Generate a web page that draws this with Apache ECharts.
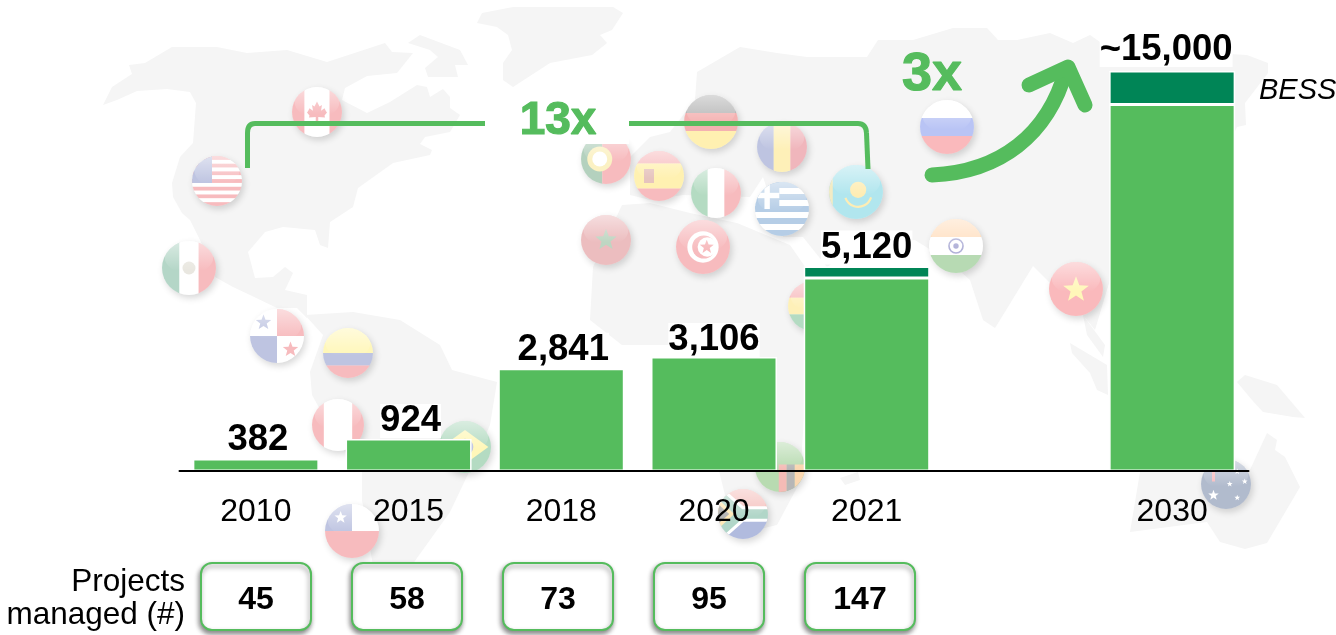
<!DOCTYPE html>
<html><head><meta charset="utf-8">
<style>html,body{margin:0;padding:0;background:#fff}#c{width:1336px;height:635px}</style>
<script src="https://cdn.jsdelivr.net/npm/echarts@6/dist/echarts.min.js"></script>
</head><body><div id="c"></div>
<script>
// ---------- data ----------
const categories = ['2010','2015','2018','2020','2021','','2030'];
// bar lengths as drawn in the picture (the source's bars are not strictly to scale with their labels)
const baseValues = [451,1203,3835,4275,7237,null,13742];
const bessValues = [null,null,null,null,432,null,1258];
const totalLabels = ['382','924','2,841','3,106','5,120','','~15,000'];
const projectsManaged = [45,58,73,95,147,null,null];

// ---------- style / layout ----------
const GREEN='#55BC5D', DARK='#008556', MAP='#f5f5f5', FONT='"Liberation Sans",Arial,sans-serif';
const labelOffsets=[[2,0],[2,1],[2,0],[0,2],[0,0],[0,0],[-6,-2]];

const landShapes=[
 // North + Central America
 [[103,105],[112,87],[132,74],[129,65],[145,63],[172,47],[217,47],[247,53],[287,50],[327,62],[385,43],[392,52],[413,53],[397,73],[367,76],[345,88],[342,100],[367,113],[390,102],[417,85],[427,87],[430,97],[443,89],[450,97],[450,108],[460,115],[450,132],[425,137],[420,144],[432,150],[430,155],[393,163],[358,188],[353,207],[330,222],[328,248],[320,245],[315,230],[283,227],[265,232],[248,252],[255,278],[273,277],[285,267],[293,273],[285,290],[307,295],[307,318],[297,308],[277,308],[250,295],[233,287],[215,277],[200,240],[190,220],[182,213],[173,197],[172,183],[180,157],[193,143],[196,103],[190,92],[167,89],[137,91],[117,100]],
 // Arctic islands
 [[408,43],[420,35],[460,50],[468,65],[455,65],[458,77],[428,77],[425,68],[438,57],[430,50]],
 // Greenland
 [[477,23],[482,13],[513,7],[550,7],[613,7],[623,13],[612,30],[600,35],[607,43],[592,55],[550,63],[513,87],[503,80],[503,63],[512,50],[508,35],[497,27]],
 // South America
 [[305,315],[353,312],[400,320],[440,345],[452,370],[497,382],[490,425],[470,470],[450,512],[417,558],[395,590],[378,590],[372,560],[362,500],[362,472],[340,445],[312,395],[310,372],[323,335]],
 // Eurasia
 [[697,72],[740,47],[777,53],[807,57],[867,57],[878,40],[913,40],[953,28],[987,28],[998,40],[1017,40],[1050,33],[1073,43],[1090,35],[1107,47],[1247,55],[1268,63],[1268,73],[1245,103],[1246,125],[1237,127],[1200,200],[1130,240],[1110,280],[1095,330],[1083,315],[1076,310],[1050,283],[1033,266],[1000,320],[995,328],[983,320],[970,280],[950,262],[915,240],[860,245],[827,267],[803,237],[783,237],[763,177],[750,197],[683,195],[650,200],[630,195],[630,157],[650,137],[670,132],[695,100]],
 // Africa
 [[622,205],[650,203],[690,213],[737,223],[790,245],[835,310],[860,320],[805,400],[800,482],[777,525],[735,535],[720,475],[703,400],[690,345],[622,345],[590,320],[593,267]],
 // Madagascar
 [[840,478],[858,472],[860,480],[845,485]],
 // SE Asia peninsula + Sumatra
 [[1083,315],[1105,345],[1103,357],[1087,335]],
 [[1070,343],[1107,365],[1108,395],[1097,390],[1090,373],[1072,353]],
 // New Guinea
 [[1237,382],[1245,375],[1277,385],[1305,418],[1293,417],[1263,412],[1252,400]],
 // Australia
 [[1130,532],[1140,472],[1249,472],[1267,433],[1277,440],[1275,450],[1285,457],[1300,487],[1267,543],[1245,549],[1220,542],[1207,522]]
];

// ---------- flag painters (unit circle) ----------
function hb(c,cols,w){let y=-1,t=w?w.reduce((a,b)=>a+b,0):cols.length;cols.forEach((k,i)=>{const h=2*(w?w[i]:1)/t;c.fillStyle=k;c.fillRect(-1,y,2,h+.01);y+=h;});}
function vb(c,cols,w){let x=-1,t=w?w.reduce((a,b)=>a+b,0):cols.length;cols.forEach((k,i)=>{const h=2*(w?w[i]:1)/t;c.fillStyle=k;c.fillRect(x,-1,h+.01,2);x+=h;});}
function star(c,x,y,r,col){c.fillStyle=col;c.beginPath();for(let i=0;i<10;i++){const a=-Math.PI/2+i*Math.PI/5,q=i%2?r*.42:r;c[i?'lineTo':'moveTo'](x+q*Math.cos(a),y+q*Math.sin(a));}c.closePath();c.fill();}
function disc(c,x,y,r,col){c.fillStyle=col;c.beginPath();c.arc(x,y,r,0,7);c.fill();}
function poly(c,pts,col){c.fillStyle=col;c.beginPath();pts.forEach((p,i)=>c[i?'lineTo':'moveTo'](p[0],p[1]));c.closePath();c.fill();}
const RED='#e8202a',BLUE='#2a3f9e',YEL='#ffe81a',GRN='#0a8a3a',WHT='#fff';
const painters={
 canada(c){vb(c,[RED,WHT,RED],[1,2,1]);poly(c,[[0,-.42],[.1,-.22],[.2,-.28],[.16,-.05],[.3,-.15],[.36,-.03],[.4,.02],[.3,.14],[.32,.22],[.05,.2],[.05,.38],[-.05,.38],[-.05,.2],[-.32,.22],[-.3,.14],[-.4,.02],[-.36,-.03],[-.3,-.15],[-.16,-.05],[-.2,-.28],[-.1,-.22]],RED);},
 usa(c){hb(c,Array.from({length:13},(_,i)=>i%2?WHT:RED));c.fillStyle=BLUE;c.fillRect(-1,-1,.8,1.08);},
 mexico(c){vb(c,['#0a7a4a',WHT,RED],[1,1.1,1]);disc(c,0,0,.24,'#b9b39c');},
 panama(c){c.fillStyle=WHT;c.fillRect(-1,-1,2,2);c.fillStyle=RED;c.fillRect(0,-1,1,1);c.fillStyle=BLUE;c.fillRect(-1,0,1,1);star(c,-.5,-.5,.3,BLUE);star(c,.5,.5,.3,RED);},
 colombia(c){hb(c,[YEL,BLUE,RED],[2,1,1]);},
 peru(c){vb(c,[RED,WHT,RED],[1,2.4,1]);},
 chile(c){hb(c,[WHT,RED]);c.fillStyle=BLUE;c.fillRect(-1,-1,1,1);star(c,-.42,-.5,.24,WHT);},
 brazil(c){c.fillStyle=GRN;c.fillRect(-1,-1,2,2);poly(c,[[-.9,0],[0,-.65],[.9,0],[0,.65]],YEL);disc(c,0,0,.32,BLUE);},
 germany(c){hb(c,['#111','#dd0000','#ffce00']);},
 romania(c){vb(c,[BLUE,'#fcd116','#ce1126']);},
 portugal(c){vb(c,['#0a6a2a','#e8202a'],[.85,1.15]);disc(c,-.25,0,.5,'#f2d23c');disc(c,-.25,0,.3,WHT);},
 spain(c){hb(c,[RED,'#ffd400',RED],[1,2,1]);c.fillStyle='#b0402a';c.fillRect(-.6,-.28,.4,.56);},
 italy(c){vb(c,['#0a8a3a',WHT,RED]);},
 greece(c){hb(c,Array.from({length:9},(_,i)=>i%2?WHT:'#0d5eaf'));c.fillStyle='#0d5eaf';c.fillRect(-1,-1,.9,1);c.fillStyle=WHT;c.fillRect(-.65,-1,.2,1);c.fillRect(-1,-.6,.9,.2);},
 kazakhstan(c){c.fillStyle='#00afca';c.fillRect(-1,-1,2,2);c.fillStyle='#d8c040';c.fillRect(-1,-1,.14,2);disc(c,.08,-.08,.3,'#fec50c');c.strokeStyle='#fec50c';c.lineWidth=.08;c.beginPath();c.arc(.08,.05,.5,.3,2.8);c.stroke();},
 morocco(c){c.fillStyle='#c1272d';c.fillRect(-1,-1,2,2);star(c,0,0,.45,'#2a7a3a');},
 tunisia(c){c.fillStyle=RED;c.fillRect(-1,-1,2,2);disc(c,0,0,.58,WHT);disc(c,.03,0,.43,RED);disc(c,.16,0,.36,WHT);star(c,.14,0,.27,RED);},
 india(c){hb(c,['#ff9933',WHT,'#138808']);c.strokeStyle='#000080';c.lineWidth=.06;c.beginPath();c.arc(0,0,.26,0,7);c.stroke();disc(c,0,0,.1,'#000080');},
 russia(c){hb(c,[WHT,'#1c3ee0','#f01c24']);},
 vietnam(c){c.fillStyle='#f01c24';c.fillRect(-1,-1,2,2);star(c,0,.03,.5,'#ffe81a');},
 ghana(c){hb(c,[RED,'#fcd116',GRN]);},
 zambia(c){c.fillStyle='#198a00';c.fillRect(-1,-1,2,2);c.fillStyle='#de2010';c.fillRect(-.05,-.1,.32,1.2);c.fillStyle='#111';c.fillRect(.27,-.1,.32,1.2);c.fillStyle='#ef7d00';c.fillRect(.59,-.1,.4,1.2);},
 southafrica(c){hb(c,['#e03c31','#002395']);c.strokeStyle=WHT;c.lineWidth=.62;c.beginPath();c.moveTo(-1,-.8);c.lineTo(-.1,0);c.lineTo(1,0);c.moveTo(-1,.8);c.lineTo(-.1,0);c.stroke();c.strokeStyle='#007a4d';c.lineWidth=.38;c.stroke();poly(c,[[-1,-.6],[-.35,0],[-1,.6]],'#ffb81c');poly(c,[[-1,-.4],[-.55,0],[-1,.4]],'#111');},
 australia(c){c.fillStyle='#00205b';c.fillRect(-1,-1,2,2);c.strokeStyle=RED;c.lineWidth=.12;c.beginPath();c.moveTo(-1,-.55);c.lineTo(0,-.55);c.moveTo(-.5,-1);c.lineTo(-.5,-.1);c.stroke();star(c,-.5,.45,.22,WHT);[[.45,-.5],[.75,-.1],[.15,0],[.45,.55]].forEach(p=>star(c,p[0],p[1],.12,WHT));}
};
// name, centre x, centre y, radius (background decoration)
const flagPlacements=[
 ['canada',317,112,25],['usa',217,181,25],['mexico',189,268,27],['panama',277,336,27],
 ['colombia',348,353,25],['peru',338,425,26],['chile',352,531,27],['brazil',465,447,26],
 ['germany',711,122,27],['romania',782,147,25],['portugal',606,159,25],['spain',659,176,25],
 ['italy',716,193,25],['greece',782,209,27],['kazakhstan',856,192,27],['morocco',606,240,25],
 ['tunisia',703,247,27],['india',956,246,27],['russia',947,127,27],['vietnam',1076,289,27],
 ['ghana',813,306,25],['zambia',780,467,25],['southafrica',743,514,25],['australia',1226,484,25]
];
function flagCanvas(name,r){
 const pad=10,s=2*(r+pad),cv=document.createElement('canvas');cv.width=s;cv.height=s;
 const tmp=document.createElement('canvas');tmp.width=s;tmp.height=s;
 const t=tmp.getContext('2d');t.translate(s/2,s/2);t.beginPath();t.arc(0,0,r,0,7);t.clip();t.scale(r,r);painters[name](t);
 const c=cv.getContext('2d');c.translate(s/2,s/2);
 c.save();c.shadowColor='rgba(0,0,0,.16)';c.shadowBlur=7;c.shadowOffsetX=2;c.shadowOffsetY=3;
 c.fillStyle='#fff';c.beginPath();c.arc(0,0,r,0,7);c.fill();c.restore();
 c.globalAlpha=.3;c.drawImage(tmp,-s/2,-s/2);c.globalAlpha=1;
 c.save();c.beginPath();c.arc(0,0,r,0,7);c.clip();c.scale(r,r);
 const g=c.createLinearGradient(0,-1,0,.1);g.addColorStop(0,'rgba(255,255,255,.5)');g.addColorStop(1,'rgba(255,255,255,0)');
 c.fillStyle=g;c.beginPath();c.ellipse(0,-.4,.9,.62,0,0,7);c.fill();
 c.restore();
 return cv;
}

// ---------- background + annotation graphics ----------
const graphics=[];
landShapes.forEach(p=>graphics.push({type:'polygon',z:-3,silent:true,shape:{points:p},style:{fill:MAP}}));
flagPlacements.forEach(([n,x,y,r])=>graphics.push({type:'image',z:-1,silent:true,style:{image:flagCanvas(n,r),x:x-r-10,y:y-r-10,width:2*(r+10),height:2*(r+10)}}));
// white box behind 13x
graphics.push({type:'rect',z:1,silent:true,shape:{x:485,y:96,width:144,height:48},style:{fill:'#fff'}});
const lineStyle={stroke:GREEN,lineWidth:5,fill:null};
graphics.push({type:'polyline',z:20,silent:true,shape:{points:[[247.5,168],[247.5,133]]},style:lineStyle});
graphics.push({type:'bezierCurve',z:20,silent:true,shape:{x1:247.5,y1:133,cpx1:247.5,cpy1:123.5,x2:255,y2:123.5},style:lineStyle});
graphics.push({type:'polyline',z:20,silent:true,shape:{points:[[255,123.5],[485,123.5]]},style:lineStyle});
graphics.push({type:'polyline',z:20,silent:true,shape:{points:[[629,123.5],[858,123.5]]},style:lineStyle});
graphics.push({type:'bezierCurve',z:20,silent:true,shape:{x1:858,y1:123.5,cpx1:866,cpy1:123.5,x2:866.5,y2:133},style:lineStyle});
graphics.push({type:'polyline',z:20,silent:true,shape:{points:[[866.5,133],[868,169]]},style:lineStyle});
const shadowTxt={stroke:GREEN,lineWidth:1.2,shadowColor:'rgba(0,0,0,.45)',shadowBlur:2,shadowOffsetX:1,shadowOffsetY:1};
graphics.push({type:'text',z:21,silent:true,style:Object.assign({x:558,y:121,text:'13x',fill:GREEN,font:'bold 46px '+FONT,align:'center',verticalAlign:'middle'},shadowTxt)});
graphics.push({type:'text',z:21,silent:true,style:Object.assign({x:932,y:75,text:'3x',fill:GREEN,font:'bold 54px '+FONT,align:'center',verticalAlign:'middle'},shadowTxt)});
const arrow={stroke:GREEN,lineWidth:15,lineCap:'round',lineJoin:'round',fill:null};
graphics.push({type:'bezierCurve',z:20,silent:true,shape:{x1:932,y1:175,cpx1:1000,cpy1:172,cpx2:1048,cpy2:135,x2:1066,y2:70},style:arrow});
graphics.push({type:'polyline',z:20,silent:true,shape:{points:[[1029,85],[1068,67],[1085,105]]},style:arrow});
graphics.push({type:'text',z:21,silent:true,style:{x:1259,y:91,text:'BESS',fill:'#000',font:'italic 29px '+FONT,align:'left',verticalAlign:'middle'}});
graphics.push({type:'text',z:21,silent:true,style:{x:185,y:582,text:'Projects',fill:'#000',font:'31.5px '+FONT,align:'right',verticalAlign:'middle'}});
graphics.push({type:'text',z:21,silent:true,style:{x:185,y:615,text:'managed (#)',fill:'#000',font:'31.5px '+FONT,align:'right',verticalAlign:'middle'}});

const chart=echarts.init(document.getElementById('c'),null,{renderer:'canvas',width:1336,height:635});
chart.setOption({
 animation:false,
 backgroundColor:'#fff',
 graphic:{elements:graphics},
 grid:[{left:179.5,width:1069,top:71,height:400},{left:180.5,width:1057,top:562,height:68}],
 xAxis:[
  {type:'category',gridIndex:0,data:categories,z:5,axisTick:{show:false},
   axisLine:{show:true,lineStyle:{color:'#000',width:2}},
   axisLabel:{color:'#000',fontSize:32,fontFamily:FONT,margin:25,interval:0}},
  {type:'category',gridIndex:1,data:categories,show:false}
 ],
 yAxis:[
  {type:'value',gridIndex:0,min:0,max:15000,show:false},
  {type:'value',gridIndex:1,min:0,max:1,show:false}
 ],
 series:[
  {type:'bar',name:'Base',stack:'t',data:baseValues,barWidth:126,itemStyle:{color:GREEN,borderColor:'#fff',borderWidth:1.5}},
  {type:'bar',name:'BESS',stack:'t',data:bessValues,barWidth:126,itemStyle:{color:DARK,borderColor:'#fff',borderWidth:1.5}},
  {type:'bar',name:'Total label',stack:'t',barWidth:126,silent:true,itemStyle:{color:'transparent'},
   data:totalLabels.map((t,i)=>({value:t?0:null,label:{offset:labelOffsets[i]}})),
   label:{show:true,position:'top',distance:2,color:'#000',fontWeight:'bold',fontSize:36.5,fontFamily:FONT,lineHeight:34,backgroundColor:'#fff',
    formatter:p=>totalLabels[p.dataIndex]}},
  {type:'custom',name:'Projects managed',xAxisIndex:1,yAxisIndex:1,z:6,silent:true,encode:{x:0,y:1},
   data:projectsManaged.map((v,i)=>v==null?null:[i,.5,v]).filter(Boolean),
   renderItem(params,api){
    const p=api.coord([api.value(0),api.value(1)]);
    return {type:'group',children:[
     {type:'rect',shape:{x:p[0]-55,y:p[1]-33,width:110,height:67,r:11},
      style:{fill:'#fff',stroke:GREEN,lineWidth:2,shadowColor:'rgba(0,0,0,.45)',shadowBlur:5,shadowOffsetX:-1,shadowOffsetY:3}},
     {type:'text',style:{x:p[0],y:p[1]+4,text:String(api.value(2)),fill:'#000',font:'bold 32px '+FONT,align:'center',verticalAlign:'middle'}}
    ]};
   }}
 ]
});
</script></body></html>
